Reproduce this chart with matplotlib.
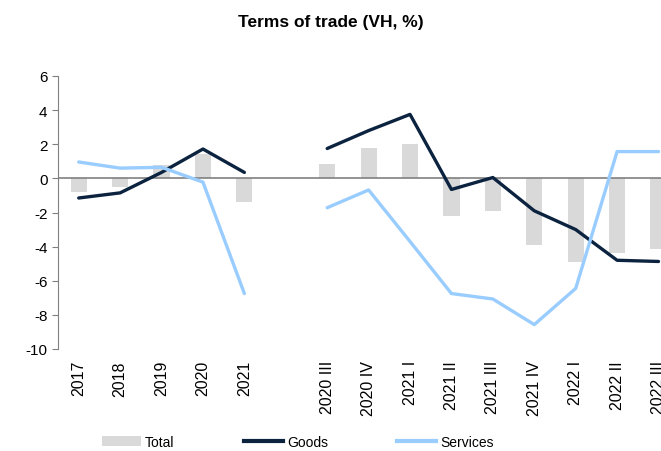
import numpy as np
import matplotlib
matplotlib.use("Agg")
import matplotlib.pyplot as plt
from matplotlib.patches import Patch
from matplotlib.lines import Line2D

plt.rcParams['font.family'] = ['Liberation Sans', 'DejaVu Sans']
plt.rcParams['axes.unicode_minus'] = False

# annual and quarterly categories (a blank slot separates them)
annual_labels = ['2017', '2018', '2019', '2020', '2021']
quarter_labels = ['2020 III', '2020 IV', '2021 I', '2021 II', '2021 III',
                  '2021 IV', '2022 I', '2022 II', '2022 III']

total_annual = [-0.8, -0.5, 0.8, 1.4, -1.4]
total_quarter = [0.85, 1.8, 2.0, -2.2, -1.9, -3.9, -4.9, -4.35, -4.15]

goods_annual = [-1.15, -0.85, 0.35, 1.72, 0.35]
goods_quarter = [1.75, 2.8, 3.75, -0.65, 0.05, -1.9, -3.0, -4.8, -4.87]

services_annual = [0.96, 0.6, 0.65, -0.22, -6.75]
services_quarter = [-1.72, -0.68, -3.7, -6.75, -7.07, -8.57, -6.45, 1.57, 1.57]

bar_color = '#d9d9d9'
goods_color = '#0c2340'
services_color = '#99ccff'

x_a = np.arange(len(annual_labels))
x_q = np.arange(len(quarter_labels)) + len(annual_labels) + 1

fig = plt.figure(figsize=(6.61, 4.52), dpi=100)
ax = fig.add_axes([58 / 661, 1 - 350 / 452, 1 - 58 / 661, (350 - 77) / 452])

w = 0.39
ax.bar(x_a, total_annual, width=w, color=bar_color, zorder=1)
ax.bar(x_q, total_quarter, width=w, color=bar_color, zorder=1)
ax.axhline(0, color='#808080', lw=1.2, zorder=2)

ax.plot(x_a, goods_annual, color=goods_color, lw=2.4, zorder=3, solid_capstyle='round')
ax.plot(x_q, goods_quarter, color=goods_color, lw=2.4, zorder=3, solid_capstyle='round')
ax.plot(x_a, services_annual, color=services_color, lw=2.4, zorder=4, solid_capstyle='round')
ax.plot(x_q, services_quarter, color=services_color, lw=2.4, zorder=4, solid_capstyle='round')

ax.set_ylim(-10, 6)
ax.set_yticks(np.arange(-10, 7, 2))
ax.set_xlim(-0.5, 14.06)
ax.set_xticks(list(x_a) + list(x_q))
ax.set_xticklabels(annual_labels + quarter_labels, rotation=90, fontsize=11.5)
ax.tick_params(axis='x', length=0, pad=8)
ax.tick_params(axis='y', labelsize=11, length=4, color='#808080', direction='out')

for s in ['top', 'right', 'bottom']:
    ax.spines[s].set_visible(False)
ax.spines['left'].set_color('#808080')

fig.text(0.5, 1 - 22 / 452, 'Terms of trade (VH, %)', ha='center', va='center',
         fontsize=12.5, fontweight='bold')

handles = [Patch(facecolor=bar_color, edgecolor='none'),
           Line2D([], [], color=goods_color, lw=3),
           Line2D([], [], color=services_color, lw=3)]
fig.legend(handles, ['Total', 'Goods', 'Services'], loc='center',
           bbox_to_anchor=(298 / 661, 1 - 443 / 452), ncol=3, frameon=False,
           fontsize=10, handlelength=2.8, handletextpad=0.3, columnspacing=5.0,
           handleheight=0.8)

fig.savefig('out.png', dpi=100)
